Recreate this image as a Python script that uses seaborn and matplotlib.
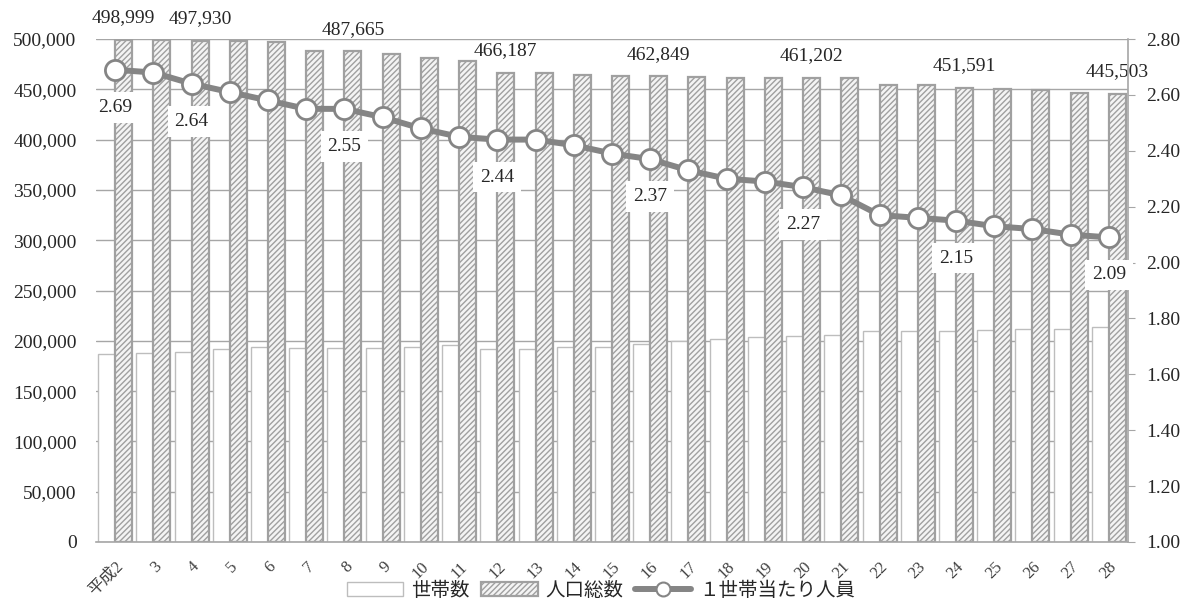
import numpy as np
import pandas as pd
import matplotlib
matplotlib.use("Agg")
import matplotlib.pyplot as plt
from matplotlib.patches import Patch
from matplotlib.lines import Line2D
from matplotlib.ticker import FuncFormatter, MultipleLocator
import seaborn as sns

# 年次（平成）
years = ["平成2", "3", "4", "5", "6", "7", "8", "9", "10", "11", "12", "13", "14",
         "15", "16", "17", "18", "19", "20", "21", "22", "23", "24", "25", "26",
         "27", "28"]

# 世帯数
households = [186500, 187500, 189000, 191500, 193500, 193000, 192400, 192400,
              194300, 195700, 191700, 191700, 193700, 194300, 197000, 200000,
              201500, 203500, 205000, 206000, 209500, 209500, 210000, 211000,
              211500, 212000, 213500]

# 人口総数
population = [498999, 498800, 497930, 497600, 496600, 488400, 487665, 485000,
              480700, 477700, 466187, 466000, 464200, 463200, 462849, 462700,
              461600, 461500, 461202, 461000, 454500, 454300, 451591, 450300,
              449300, 446400, 445503]

# 1世帯当たり人員
per_household = [2.69, 2.68, 2.64, 2.61, 2.58, 2.55, 2.55, 2.52, 2.48, 2.45,
                 2.44, 2.44, 2.42, 2.39, 2.37, 2.33, 2.30, 2.29, 2.27, 2.24,
                 2.17, 2.16, 2.15, 2.13, 2.12, 2.10, 2.09]

# 数値ラベルを付ける年次
label_years = ["平成2", "4", "8", "12", "16", "20", "24", "28"]

series_hh = "世帯数"
series_pop = "人口総数"
series_rate = "１世帯当たり人員"

sns.set_style("white")
plt.rcParams["font.family"] = ["Liberation Serif", "Noto Sans CJK JP", "DejaVu Sans"]
plt.rcParams["hatch.linewidth"] = 1.0

TEXT = "#262626"
GRID = "#a6a6a6"
EDGE = "#a0a0a0"
LINE = "#858585"

df = pd.DataFrame({
    "year": years * 2,
    "value": households + population,
    "series": [series_hh] * len(years) + [series_pop] * len(years),
})

fig = plt.figure(figsize=(11.9, 6.06), dpi=100)
ax = fig.add_axes([96 / 1190, 1 - 542 / 606, (1128 - 96) / 1190, (542 - 39) / 606])

sns.barplot(data=df, x="year", y="value", hue="series", order=years,
            hue_order=[series_hh, series_pop],
            palette={series_hh: "white", series_pop: "white"},
            width=0.89, gap=0.0, legend=False, ax=ax, zorder=2)

for p in ax.containers[0]:
    p.set_edgecolor("#bdbdbd")
    p.set_linewidth(1.0)
    p.set_facecolor("white")
for p in ax.containers[1]:
    p.set_edgecolor(EDGE)
    p.set_linewidth(1.6)
    p.set_facecolor("#f4f4f4")
    p.set_hatch("//////")

ax.set_ylim(0, 500000)
ax.set_xlim(-0.5, len(years) - 0.5)
ax.yaxis.set_major_locator(MultipleLocator(50000))
ax.yaxis.set_major_formatter(FuncFormatter(lambda v, _: f"{int(v):,}"))
ax.grid(axis="y", color=GRID, linewidth=1.0, zorder=0)
ax.set_axisbelow(True)
ax.set_xlabel("")
ax.set_ylabel("")
for s in ["left", "top", "right"]:
    ax.spines[s].set_visible(False)
ax.spines["bottom"].set_color(GRID)
ax.spines["bottom"].set_linewidth(1.2)
ax.tick_params(axis="y", length=0, labelsize=14, labelcolor=TEXT, pad=14)
ax.tick_params(axis="x", length=0, labelsize=12, labelcolor="#404040", pad=12)
ax.set_xticks(range(len(years)))
ax.set_xticklabels(years, rotation=45, ha="right", rotation_mode="anchor")

# 人口総数の数値ラベル
xpos = np.arange(len(years))
for yr in label_years:
    i = years.index(yr)
    ax.annotate(f"{population[i]:,}", (i + 0.89 / 4, population[i]),
                xytext=(0, 16), textcoords="offset points",
                ha="center", va="center", fontsize=14, color=TEXT,
                annotation_clip=False, zorder=5)

# 1世帯当たり人員（右軸）
ax2 = ax.twinx()
sns.lineplot(x=xpos, y=per_household, ax=ax2, color=LINE, linewidth=4.3,
             marker="o", markersize=14.5, markerfacecolor="white",
             markeredgecolor=LINE, markeredgewidth=2.0, zorder=4)
ax2.set_ylim(1.0, 2.8)
ax2.yaxis.set_major_locator(MultipleLocator(0.2))
ax2.yaxis.set_major_formatter(FuncFormatter(lambda v, _: f"{v:.2f}"))
for s in ["left", "top", "bottom"]:
    ax2.spines[s].set_visible(False)
ax2.spines["right"].set_color(GRID)
ax2.spines["right"].set_linewidth(1.2)
ax2.tick_params(axis="y", direction="out", length=5, color=GRID,
                labelsize=14, labelcolor=TEXT, pad=8)
ax2.set_ylabel("")

for yr in label_years:
    i = years.index(yr)
    ax2.annotate(f"{per_household[i]:.2f}", (i, per_household[i]),
                 xytext=(0, -27), textcoords="offset points",
                 ha="center", va="center", fontsize=14, color=TEXT,
                 bbox=dict(boxstyle="square,pad=0.35", fc="white", ec="none"),
                 zorder=6)

handles = [
    Patch(facecolor="white", edgecolor="#bdbdbd", linewidth=1.0),
    Patch(facecolor="#f4f4f4", edgecolor=EDGE, linewidth=1.6, hatch="//////"),
    Line2D([], [], color=LINE, linewidth=4.3, marker="o", markersize=10,
           markerfacecolor="white", markeredgecolor=LINE, markeredgewidth=1.5),
]
fig.legend(handles, [series_hh, series_pop, series_rate],
           loc="center", bbox_to_anchor=(0.505, 0.026), ncol=3, frameon=False,
           prop={"family": ["Noto Sans CJK JP"], "size": 14},
           handlelength=2.9, handleheight=0.8, handletextpad=0.4,
           columnspacing=0.6, labelcolor=TEXT)

fig.savefig("out.png", dpi=100)
